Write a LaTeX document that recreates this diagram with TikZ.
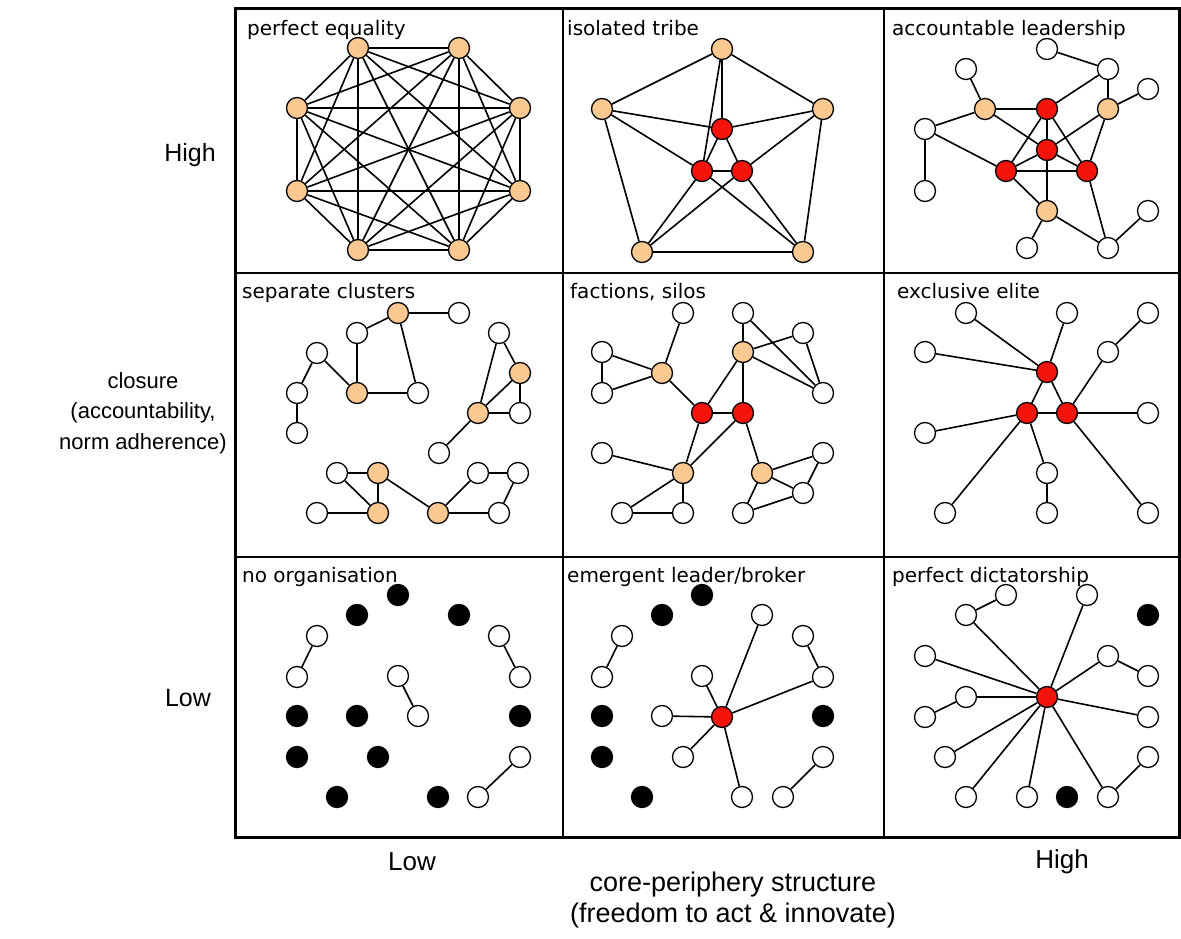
\documentclass[tikz,border=0pt]{standalone}
\usepackage{fontspec}
\setmainfont{Liberation Sans}
\newfontfamily\labfam{DejaVu Sans}
\newcommand\labfont{\labfam\fontsize{20}{23}\selectfont}
\newcommand\axfont{\fontsize{25}{30}\selectfont}
\newcommand\axsfont{\fontsize{22}{30.5}\selectfont}
\newcommand\axbfont{\fontsize{27}{31}\selectfont}
\definecolor{peach}{RGB}{251,200,145}
\definecolor{nodered}{RGB}{245,20,10}
\tikzset{
  nd/.style={circle,draw=black,line width=1.3pt,minimum size=21pt,inner sep=0pt},
  wn/.style={nd,fill=white},
  orn/.style={nd,fill=peach},
  rn/.style={nd,fill=nodered},
  bn/.style={nd,fill=black},
  ed/.style={line width=1.6pt},
  lab/.style={anchor=base west,inner sep=0pt,font=\labfont},
  ax/.style={font=\axfont,inner sep=0pt,align=center}
}
\begin{document}
\begin{tikzpicture}[x=1pt,y=-1pt]
\useasboundingbox (0,0) rectangle (1181,939);
% grid
\draw[line width=1.5pt] (563,9) -- (563,837) (884,9) -- (884,837)
  (235,273) -- (1179,273) (235,557) -- (1179,557);
\draw[line width=3pt] (235,9) rectangle (1179,837);
% axis labels
\node[ax] (hiL) at (190,155) {High};
\node[ax,font=\axsfont] (clos) at (143,413) {closure\\(accountability,\\norm adherence)};
\node[ax] (loL) at (188,698) {Low};
\node[ax,font=\axfont\fontsize{26}{30}\selectfont] (loB) at (412,862) {Low};
\node[ax,font=\axfont\fontsize{26}{30}\selectfont] (hiB) at (1062,862) {High};
\node[ax,font=\axbfont] (cp) at (733,900) {core-periphery structure\\(freedom to act \& innovate)};
% panel labels
\node[lab] (l1) at (247,36) {perfect equality};
\node[lab] (l2) at (567,36) {isolated tribe};
\node[lab] (l3) at (892,36) {accountable leadership};
\node[lab] (l4) at (242,298) {separate clusters};
\node[lab] (l5) at (570,298) {factions, silos};
\node[lab] (l6) at (897,298) {exclusive elite};
\node[lab] (l7) at (242,582) {no organisation};
\node[lab] (l8) at (567,582) {emergent leader/broker};
\node[lab] (l9) at (892,582) {perfect dictatorship};

% ===== panel 1: perfect equality
\node[orn] (e1) at (358,48) {};
\node[orn] (e2) at (459,48) {};
\node[orn] (e3) at (520,108) {};
\node[orn] (e4) at (520,191) {};
\node[orn] (e5) at (459,250) {};
\node[orn] (e6) at (358,250) {};
\node[orn] (e7) at (297,191) {};
\node[orn] (e8) at (297,108) {};
\foreach \i in {1,...,7}{
  \pgfmathtruncatemacro\k{\i+1}
  \foreach \j in {\k,...,8}{\draw[ed] (e\i) -- (e\j);}
}

% ===== panel 2: isolated tribe
\node[orn] (t1) at (722,49) {};
\node[orn] (t2) at (602,109) {};
\node[orn] (t3) at (823,109) {};
\node[orn] (t4) at (642,252) {};
\node[orn] (t5) at (803,252) {};
\node[rn] (tr1) at (722,129) {};
\node[rn] (tr2) at (702,171) {};
\node[rn] (tr3) at (742,171) {};
\draw[ed] (t1)--(t2) (t1)--(t3) (t1)--(tr1) (t1)--(tr2)
  (t2)--(tr1) (t2)--(tr2) (t2)--(t4)
  (t3)--(tr1) (t3)--(tr3) (t3)--(t5)
  (t4)--(t5) (t4)--(tr2) (t4)--(tr3)
  (t5)--(tr2) (t5)--(tr3)
  (tr1)--(tr2) (tr1)--(tr3) (tr2)--(tr3);

% ===== panel 3: accountable leadership
\node[wn] (a1) at (1047,49) {};
\node[wn] (a2) at (1108,69) {};
\node[wn] (a3) at (966,69) {};
\node[wn] (a4) at (1148,89) {};
\node[orn] (ao1) at (985,109) {};
\node[rn] (ar1) at (1047,109) {};
\node[orn] (ao2) at (1108,109) {};
\node[wn] (a5) at (925,129) {};
\node[rn] (ar2) at (1047,150) {};
\node[rn] (ar3) at (1006,171) {};
\node[rn] (ar4) at (1087,171) {};
\node[wn] (a6) at (925,191) {};
\node[orn] (ao3) at (1047,211) {};
\node[wn] (a7) at (1148,211) {};
\node[wn] (a8) at (1027,248) {};
\node[wn] (a9) at (1108,248) {};
\draw[ed] (a1)--(a2) (a2)--(ar1) (a2)--(ao2) (a4)--(ao2) (a3)--(ao1)
  (ao1)--(ar1) (ao1)--(a5) (a5)--(a6) (a5)--(ar3) (ao1)--(ar2)
  (ao2)--(ar2) (ao2)--(ar4) (ar1)--(ar2) (ar1)--(ar3) (ar1)--(ar4)
  (ar2)--(ar3) (ar2)--(ar4) (ar3)--(ar4) (ar2)--(ao3) (ar3)--(ao3)
  (ao3)--(a8) (ao3)--(a9) (ar4)--(a9) (a9)--(a7);

% ===== panel 4: separate clusters
\node[orn] (s1) at (398,313) {};
\node[wn] (s2) at (459,313) {};
\node[wn] (s3) at (357,333) {};
\node[wn] (s4) at (317,353) {};
\node[orn] (s5) at (357,393) {};
\node[wn] (s6) at (418,393) {};
\node[wn] (s7) at (297,393) {};
\node[wn] (s8) at (297,433) {};
\draw[ed] (s1)--(s2) (s1)--(s3) (s3)--(s5) (s1)--(s6) (s5)--(s6)
  (s4)--(s5) (s4)--(s7) (s7)--(s8);
\node[wn] (sb1) at (499,333) {};
\node[orn] (sb2) at (520,373) {};
\node[orn] (sb3) at (478,413) {};
\node[wn] (sb4) at (520,413) {};
\node[wn] (sb5) at (439,453) {};
\draw[ed] (sb1)--(sb2) (sb1)--(sb3) (sb2)--(sb3) (sb2)--(sb4) (sb3)--(sb4) (sb3)--(sb5);
\node[wn] (sc1) at (337,473) {};
\node[orn] (sc2) at (378,473) {};
\node[wn] (sc3) at (317,513) {};
\node[orn] (sc4) at (378,513) {};
\node[orn] (sc5) at (438,513) {};
\node[wn] (sc6) at (478,473) {};
\node[wn] (sc7) at (518,473) {};
\node[wn] (sc8) at (499,513) {};
\draw[ed] (sc1)--(sc2) (sc1)--(sc4) (sc2)--(sc4) (sc3)--(sc4) (sc2)--(sc5)
  (sc5)--(sc6) (sc5)--(sc8) (sc6)--(sc7) (sc7)--(sc8);

% ===== panel 5: factions, silos
\node[rn] (fr1) at (702,413) {};
\node[rn] (fr2) at (743,413) {};
\node[orn] (fo1) at (662,373) {};
\node[orn] (fo2) at (743,352) {};
\node[orn] (fo3) at (683,473) {};
\node[orn] (fo4) at (762,473) {};
\node[wn] (f1) at (683,313) {};
\node[wn] (f2) at (602,352) {};
\node[wn] (f3) at (602,393) {};
\node[wn] (f4) at (743,313) {};
\node[wn] (f5) at (803,333) {};
\node[wn] (f6) at (823,393) {};
\node[wn] (f7) at (602,453) {};
\node[wn] (f8) at (622,513) {};
\node[wn] (f9) at (683,513) {};
\node[wn] (f10) at (823,453) {};
\node[wn] (f11) at (803,493) {};
\node[wn] (f12) at (743,513) {};
\draw[ed] (fo1)--(f1) (fo1)--(f2) (fo1)--(f3) (f2)--(f3) (fo1)--(fr1)
  (fr1)--(fr2) (fr1)--(fo2) (fr2)--(fo2)
  (fo2)--(f4) (fo2)--(f5) (fo2)--(f6) (f4)--(f6) (f5)--(f6)
  (fr1)--(fo3) (fr2)--(fo3) (fr2)--(fo4)
  (fo3)--(f7) (fo3)--(f8) (fo3)--(f9) (f8)--(f9)
  (fo4)--(f10) (fo4)--(f11) (fo4)--(f12) (f10)--(f11) (f11)--(f12);

% ===== panel 6: exclusive elite
\node[rn] (xr1) at (1047,372) {};
\node[rn] (xr2) at (1027,413) {};
\node[rn] (xr3) at (1067,413) {};
\node[wn] (x1) at (966,313) {};
\node[wn] (x2) at (1067,313) {};
\node[wn] (x3) at (1148,313) {};
\node[wn] (x4) at (925,352) {};
\node[wn] (x5) at (1108,352) {};
\node[wn] (x6) at (1148,413) {};
\node[wn] (x7) at (925,433) {};
\node[wn] (x8) at (1047,473) {};
\node[wn] (x9) at (945,513) {};
\node[wn] (x10) at (1047,513) {};
\node[wn] (x11) at (1148,513) {};
\draw[ed] (xr1)--(x1) (xr1)--(x2) (xr1)--(x4) (xr1)--(xr2) (xr1)--(xr3)
  (xr2)--(xr3) (xr3)--(x5) (x5)--(x3) (xr3)--(x6) (xr2)--(x7)
  (xr2)--(x9) (xr2)--(x8) (x8)--(x10) (xr3)--(x11);

% ===== panel 7: no organisation
\foreach \n/\p in {n1/{(398,595)},n2/{(357,615)},n3/{(459,615)},n4/{(297,716)},
  n5/{(357,716)},n6/{(520,716)},n7/{(297,757)},n8/{(378,757)},n9/{(337,797)},n10/{(438,797)}}
  {\node[bn] (\n) at \p {};}
\node[wn] (nw1) at (317,636) {};
\node[wn] (nw2) at (297,677) {};
\node[wn] (nw3) at (398,676) {};
\node[wn] (nw4) at (418,716) {};
\node[wn] (nw5) at (499,636) {};
\node[wn] (nw6) at (520,677) {};
\node[wn] (nw7) at (520,757) {};
\node[wn] (nw8) at (478,797) {};
\draw[ed] (nw1)--(nw2) (nw3)--(nw4) (nw5)--(nw6) (nw7)--(nw8);

% ===== panel 8: emergent leader/broker
\node[rn] (mc) at (722,717) {};
\foreach \n/\p in {mb1/{(702,595)},mb2/{(662,615)},mb3/{(602,716)},mb4/{(602,757)},
  mb5/{(642,797)},mb6/{(823,716)}}
  {\node[bn] (\n) at \p {};}
\node[wn] (m1) at (622,636) {};
\node[wn] (m2) at (602,677) {};
\node[wn] (m3) at (762,615) {};
\node[wn] (m4) at (803,636) {};
\node[wn] (m5) at (823,677) {};
\node[wn] (m6) at (702,676) {};
\node[wn] (m7) at (662,716) {};
\node[wn] (m8) at (683,757) {};
\node[wn] (m9) at (742,797) {};
\node[wn] (m10) at (823,757) {};
\node[wn] (m11) at (783,797) {};
\draw[ed] (m1)--(m2) (m3)--(mc) (m4)--(m5) (m5)--(mc) (m6)--(mc)
  (m7)--(mc) (m8)--(mc) (m9)--(mc) (m10)--(m11);

% ===== panel 9: perfect dictatorship
\node[rn] (dc) at (1047,697) {};
\node[bn] (db1) at (1148,615) {};
\node[bn] (db2) at (1067,797) {};
\node[wn] (d1) at (1006,595) {};
\node[wn] (d2) at (966,615) {};
\node[wn] (d3) at (1087,595) {};
\node[wn] (d4) at (925,656) {};
\node[wn] (d5) at (1108,656) {};
\node[wn] (d6) at (1148,676) {};
\node[wn] (d7) at (966,697) {};
\node[wn] (d8) at (925,717) {};
\node[wn] (d9) at (1148,717) {};
\node[wn] (d10) at (945,757) {};
\node[wn] (d11) at (1148,757) {};
\node[wn] (d12) at (966,797) {};
\node[wn] (d13) at (1027,797) {};
\node[wn] (d14) at (1108,797) {};
\draw[ed] (d1)--(d2) (d2)--(dc) (d3)--(dc) (d4)--(dc) (d5)--(dc) (d5)--(d6)
  (d7)--(dc) (d7)--(d8) (d9)--(dc) (d10)--(dc) (d12)--(dc) (d13)--(dc)
  (d14)--(dc) (d14)--(d11);
\end{tikzpicture}
\end{document}
